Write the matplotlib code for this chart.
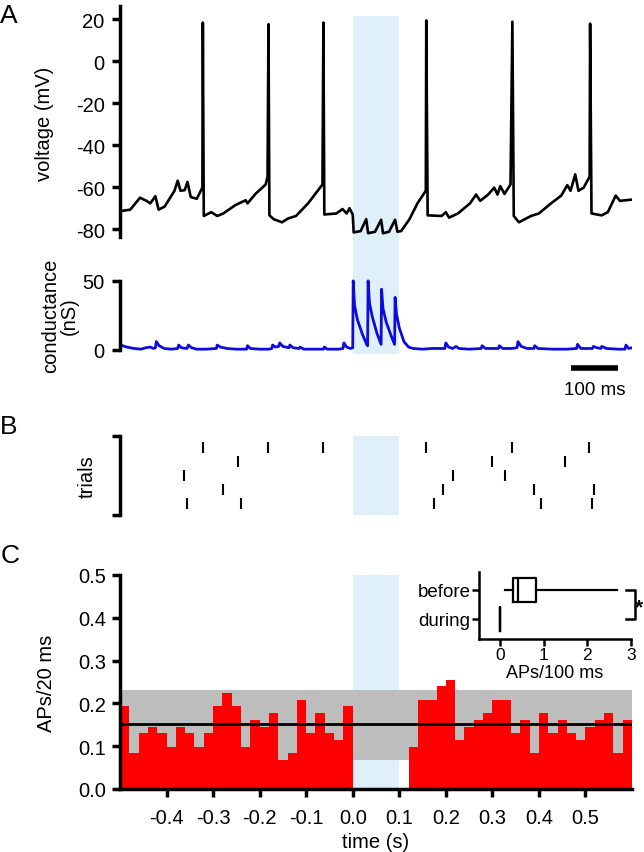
import numpy as np
import matplotlib.pyplot as plt

# ---- data ----
# panel A: membrane voltage of the example trial (time in s, mV)
v_t = [-0.500, -0.478, -0.457, -0.443, -0.435, -0.424, -0.417, -0.404, -0.383, -0.376,
       -0.370, -0.361, -0.355, -0.348, -0.335, -0.323, -0.322, -0.320, -0.304, -0.291,
       -0.278, -0.252, -0.230, -0.226, -0.209, -0.187, -0.183, -0.181, -0.179, -0.170,
       -0.152, -0.139, -0.122, -0.096, -0.065, -0.063, -0.061, -0.035, -0.022, -0.013,
       -0.007, 0.000, 0.002, 0.017, 0.029, 0.033, 0.048, 0.061, 0.065, 0.078,
       0.091, 0.096, 0.104, 0.122, 0.139, 0.157, 0.158, 0.161, 0.191, 0.200,
       0.207, 0.226, 0.252, 0.265, 0.274, 0.291, 0.304, 0.311, 0.317, 0.326,
       0.339, 0.343, 0.346, 0.357, 0.370, 0.383, 0.400, 0.426, 0.448, 0.461,
       0.468, 0.478, 0.485, 0.496, 0.509, 0.510, 0.513, 0.535, 0.548, 0.565,
       0.574, 0.600]
v_mv = [-71.5, -70.8, -65.1, -66.6, -67.8, -64.4, -70.8, -69.3, -61.8, -57.0,
        -61.8, -61.5, -57.6, -64.8, -65.6, -60.3, 18.3, -73.8, -72.0, -73.8,
        -72.6, -68.6, -66.3, -67.8, -63.3, -58.8, -55.1, 17.5, -73.5, -75.3,
        -76.8, -75.0, -73.8, -67.8, -58.8, 18.3, -73.1, -72.6, -70.5, -72.6,
        -70.1, -73.1, -81.6, -81.0, -75.3, -82.0, -81.3, -75.6, -82.0, -81.3,
        -75.6, -81.3, -81.0, -75.3, -67.8, -61.8, 19.3, -73.5, -73.8, -72.0,
        -74.6, -72.6, -67.8, -63.6, -66.6, -63.6, -60.3, -63.6, -59.6, -63.3,
        -58.8, 18.7, -73.8, -76.8, -75.3, -73.8, -72.6, -67.8, -64.1, -59.1,
        -61.8, -54.0, -61.8, -60.3, -55.1, 17.8, -72.6, -73.5, -72.0, -64.1,
        -66.6, -66.0]

# panel A: inhibitory conductance (time in s, nS)
g_t = [-0.500, -0.495, -0.485, -0.470, -0.455, -0.445, -0.435, -0.428, -0.424, -0.422,
       -0.416, -0.405, -0.390, -0.376, -0.374, -0.368, -0.356, -0.353, -0.346, -0.335,
       -0.315, -0.293, -0.291, -0.284, -0.270, -0.250, -0.228, -0.226, -0.220, -0.200,
       -0.180, -0.174, -0.172, -0.166, -0.159, -0.157, -0.150, -0.137, -0.135, -0.128,
       -0.115, -0.113, -0.105, -0.080, -0.063, -0.061, -0.055, -0.030, -0.021, -0.019,
       -0.013, -0.005, 0.000, 0.001, 0.004, 0.010, 0.020, 0.030, 0.032, 0.033,
       0.036, 0.042, 0.052, 0.061, 0.062, 0.065, 0.072, 0.085, 0.090, 0.091,
       0.094, 0.100, 0.110, 0.120, 0.130, 0.150, 0.170, 0.198, 0.200, 0.206,
       0.215, 0.222, 0.228, 0.250, 0.276, 0.278, 0.285, 0.313, 0.315, 0.322,
       0.340, 0.353, 0.355, 0.362, 0.375, 0.389, 0.391, 0.398, 0.430, 0.460,
       0.481, 0.483, 0.490, 0.515, 0.517, 0.525, 0.533, 0.535, 0.545, 0.570,
       0.585, 0.587, 0.593, 0.600]
g_ns = [4.5, 3.0, 2.0, 1.0, 0.5, 1.5, 2.0, 1.0, 1.5, 6.0,
        3.0, 1.0, 0.5, 1.0, 3.5, 1.5, 1.0, 3.5, 1.5, 0.5,
        0.5, 1.0, 3.5, 2.0, 1.0, 0.5, 0.5, 3.0, 1.0, 0.5,
        0.5, 1.0, 3.5, 2.0, 2.5, 5.0, 2.5, 1.5, 3.5, 1.5,
        1.0, 2.0, 0.5, 0.5, 0.5, 2.0, 0.5, 0.5, 1.0, 5.0,
        2.0, 1.0, 1.5, 50.0, 32.0, 22.0, 12.0, 4.0, 3.0, 50.0,
        34.0, 24.0, 12.0, 4.0, 44.0, 30.0, 20.0, 8.0, 4.0, 38.0,
        26.0, 16.0, 6.0, 2.0, 1.0, 0.5, 1.0, 1.0, 5.0, 2.0,
        1.0, 2.5, 1.0, 0.5, 1.0, 3.0, 1.0, 1.0, 3.0, 1.0,
        1.0, 1.5, 6.0, 2.5, 1.0, 1.0, 3.0, 1.0, 0.5, 0.5,
        1.0, 4.0, 1.0, 1.0, 2.5, 1.5, 1.0, 2.5, 1.0, 0.5,
        0.5, 3.5, 1.0, 1.5]

# panel B: spike times per trial (s)
spikes = [
    [-0.322, -0.181, -0.063, 0.158, 0.343, 0.508],
    [-0.246, 0.300, 0.455],
    [-0.363, 0.215, 0.328],
    [-0.278, 0.194, 0.389, 0.519],
    [-0.355, -0.239, 0.174, 0.404, 0.513],
]

# panel C: PSTH, 20 ms bins from -0.5 s
bin_start = -0.5
bin_width = 0.02
rate_before = [0.194, 0.085, 0.131, 0.146, 0.131, 0.099, 0.146, 0.131, 0.099, 0.131,
               0.194, 0.224, 0.194, 0.099, 0.161, 0.146, 0.177, 0.068, 0.084, 0.209,
               0.131, 0.177, 0.131, 0.115, 0.194]
rate_during = [0, 0, 0, 0, 0, 0]
rate_after = [0.098, 0.209, 0.209, 0.240, 0.255, 0.115, 0.146, 0.161, 0.177, 0.209,
              0.209, 0.131, 0.161, 0.084, 0.177, 0.131, 0.161, 0.131, 0.115, 0.146,
              0.161, 0.177, 0.084, 0.161]
rate_mean = 0.151
rate_band = (0.068, 0.231)

# inset box plot (APs/100 ms)
before_box = dict(whislo=0.11, q1=0.29, med=0.42, q3=0.82, whishi=2.68, fliers=[])
during_box = dict(whislo=0.0, q1=0.0, med=0.0, q3=0.0, whishi=0.0, fliers=[])

stim = (0.0, 0.1)

# ---- figure ----
LIGHT_BLUE = '#e0f0fa'
plt.rcParams['font.family'] = ['Liberation Sans', 'DejaVu Sans']
plt.rcParams['font.size'] = 14.5
plt.rcParams['axes.unicode_minus'] = False
W, H = 644, 853
fig = plt.figure(figsize=(W / 100, H / 100), dpi=100)


def add_ax(l, t, r, b):
    return fig.add_axes([l / W, 1 - b / H, (r - l) / W, (b - t) / H])


def left_only(ax, lw=2.5, length=6):
    for s in ['top', 'right', 'bottom']:
        ax.spines[s].set_visible(False)
    ax.spines['left'].set_linewidth(lw)
    ax.tick_params(axis='y', direction='out', length=length, width=lw, pad=5)
    ax.set_xticks([])
    ax.patch.set_visible(False)


# blue stimulus shading behind voltage + conductance
bg = add_ax(120, 17, 632, 355)
bg.set_xlim(-0.5, 0.6)
bg.axvspan(*stim, color=LIGHT_BLUE, lw=0)
bg.axis('off')

axv = add_ax(120, 7.4, 632, 238.4)
axv.plot(v_t, v_mv, color='black', lw=1.9)
axv.set_xlim(-0.5, 0.6)
axv.set_ylim(-84, 26)
axv.set_yticks([20, 0, -20, -40, -60, -80])
left_only(axv)

axg = add_ax(120, 279.1, 632, 355)
axg.plot(g_t, g_ns, color='#0c0cdc', lw=2)
axg.set_xlim(-0.5, 0.6)
axg.set_ylim(-3, 52)
axg.set_yticks([0, 50])
left_only(axg)
axg.spines['left'].set_bounds(0, 50)
# 100 ms scale bar
axg.plot([0.47, 0.57], [-13, -13], color='black', lw=4, solid_capstyle='butt', clip_on=False)
axg.text(0.52, -28.5, '100 ms', ha='center', va='center', fontsize=13.5)

fig.text(45 / W, 1 - 124 / H, 'voltage (mV)', rotation=90, ha='center', va='center')
fig.text(60 / W, 1 - 316 / H, 'conductance\n(nS)', rotation=90, ha='center', va='center',
         linespacing=1.0)

# panel B raster
axb = add_ax(120, 437, 632, 516)
axb.axvspan(*stim, color=LIGHT_BLUE, lw=0)
axb.eventplot(spikes, lineoffsets=np.arange(1, len(spikes) + 1), linelengths=0.8,
              colors='black', linewidths=1.5)
axb.set_xlim(-0.5, 0.6)
axb.set_ylim(5.85, 0.15)
left_only(axb)
axb.set_yticks([5.85, 0.15])
axb.set_yticklabels(['', ''])
fig.text(87 / W, 1 - 477 / H, 'trials', rotation=90, ha='center', va='center')

# panel C histogram
axc = add_ax(120, 576, 632, 790)
rates = rate_before + rate_during + rate_after
edges = bin_start + bin_width * np.arange(len(rates))
axc.axvspan(*stim, color=LIGHT_BLUE, lw=0, zorder=0)
axc.axhspan(*rate_band, color='#bdbdbd', lw=0, zorder=1)
axc.bar(edges, rates, width=bin_width, align='edge', color='#ff0000', lw=0, zorder=2)
axc.axhline(rate_mean, color='black', lw=2, zorder=3)
axc.set_xlim(-0.5, 0.6)
axc.set_ylim(0, 0.5)
for s in ['top', 'right']:
    axc.spines[s].set_visible(False)
for s in ['left', 'bottom']:
    axc.spines[s].set_linewidth(2.5)
axc.tick_params(direction='out', length=6, width=2.5)
axc.tick_params(axis='y', pad=4)
axc.tick_params(axis='x', pad=8)
axc.set_yticks([0.0, 0.1, 0.2, 0.3, 0.4, 0.5])
axc.set_yticklabels(['0.0', '0.1', '0.2', '0.3', '0.4', '0.5'])
axc.set_xticks([-0.4, -0.3, -0.2, -0.1, 0.0, 0.1, 0.2, 0.3, 0.4, 0.5])
axc.set_xticklabels(['-0.4', '-0.3', '-0.2', '-0.1', '0.0', '0.1', '0.2', '0.3', '0.4', '0.5'])
axc.set_xlabel('time (s)', labelpad=3)
axc.patch.set_visible(False)
fig.text(46 / W, 1 - 683 / H, 'APs/20 ms', rotation=90, ha='center', va='center')

# inset box plot
axi = add_ax(479, 573, 631, 640)
axi.patch.set_visible(False)
axi.bxp([during_box, before_box], positions=[0, 1], widths=0.86, orientation='horizontal',
        showcaps=False, showfliers=False,
        boxprops=dict(color='black', lw=1.6), whiskerprops=dict(color='black', lw=1.6),
        medianprops=dict(color='black', lw=1.6))
axi.set_xlim(-0.48, 3.0)
axi.set_ylim(-0.69, 1.62)
axi.set_yticks([0, 1])
axi.set_yticklabels(['during', 'before'], fontsize=13.5)
axi.set_xticks([0, 1, 2, 3])
axi.set_xticklabels(['0', '1', '2', '3'], fontsize=12.5)
for s in ['top', 'right']:
    axi.spines[s].set_visible(False)
for s in ['left', 'bottom']:
    axi.spines[s].set_linewidth(1.8)
axi.tick_params(direction='out', length=5, width=1.8, pad=1)
axi.set_xlabel('APs/100 ms', fontsize=13, labelpad=1)
axi.plot([2.88, 3.09, 3.09, 2.88], [1, 1, 0, 0], color='black', lw=1.8, clip_on=False)
axi.text(3.1, 0.42, '*', fontsize=15, ha='left', va='center', fontweight='bold')

# panel letters
fig.text(9 / W, 1 - 16 / H, 'A', fontsize=19, ha='center', va='center')
fig.text(9 / W, 1 - 427 / H, 'B', fontsize=19, ha='center', va='center')
fig.text(10 / W, 1 - 556 / H, 'C', fontsize=19, ha='center', va='center')

fig.savefig('out.png', dpi=100)
